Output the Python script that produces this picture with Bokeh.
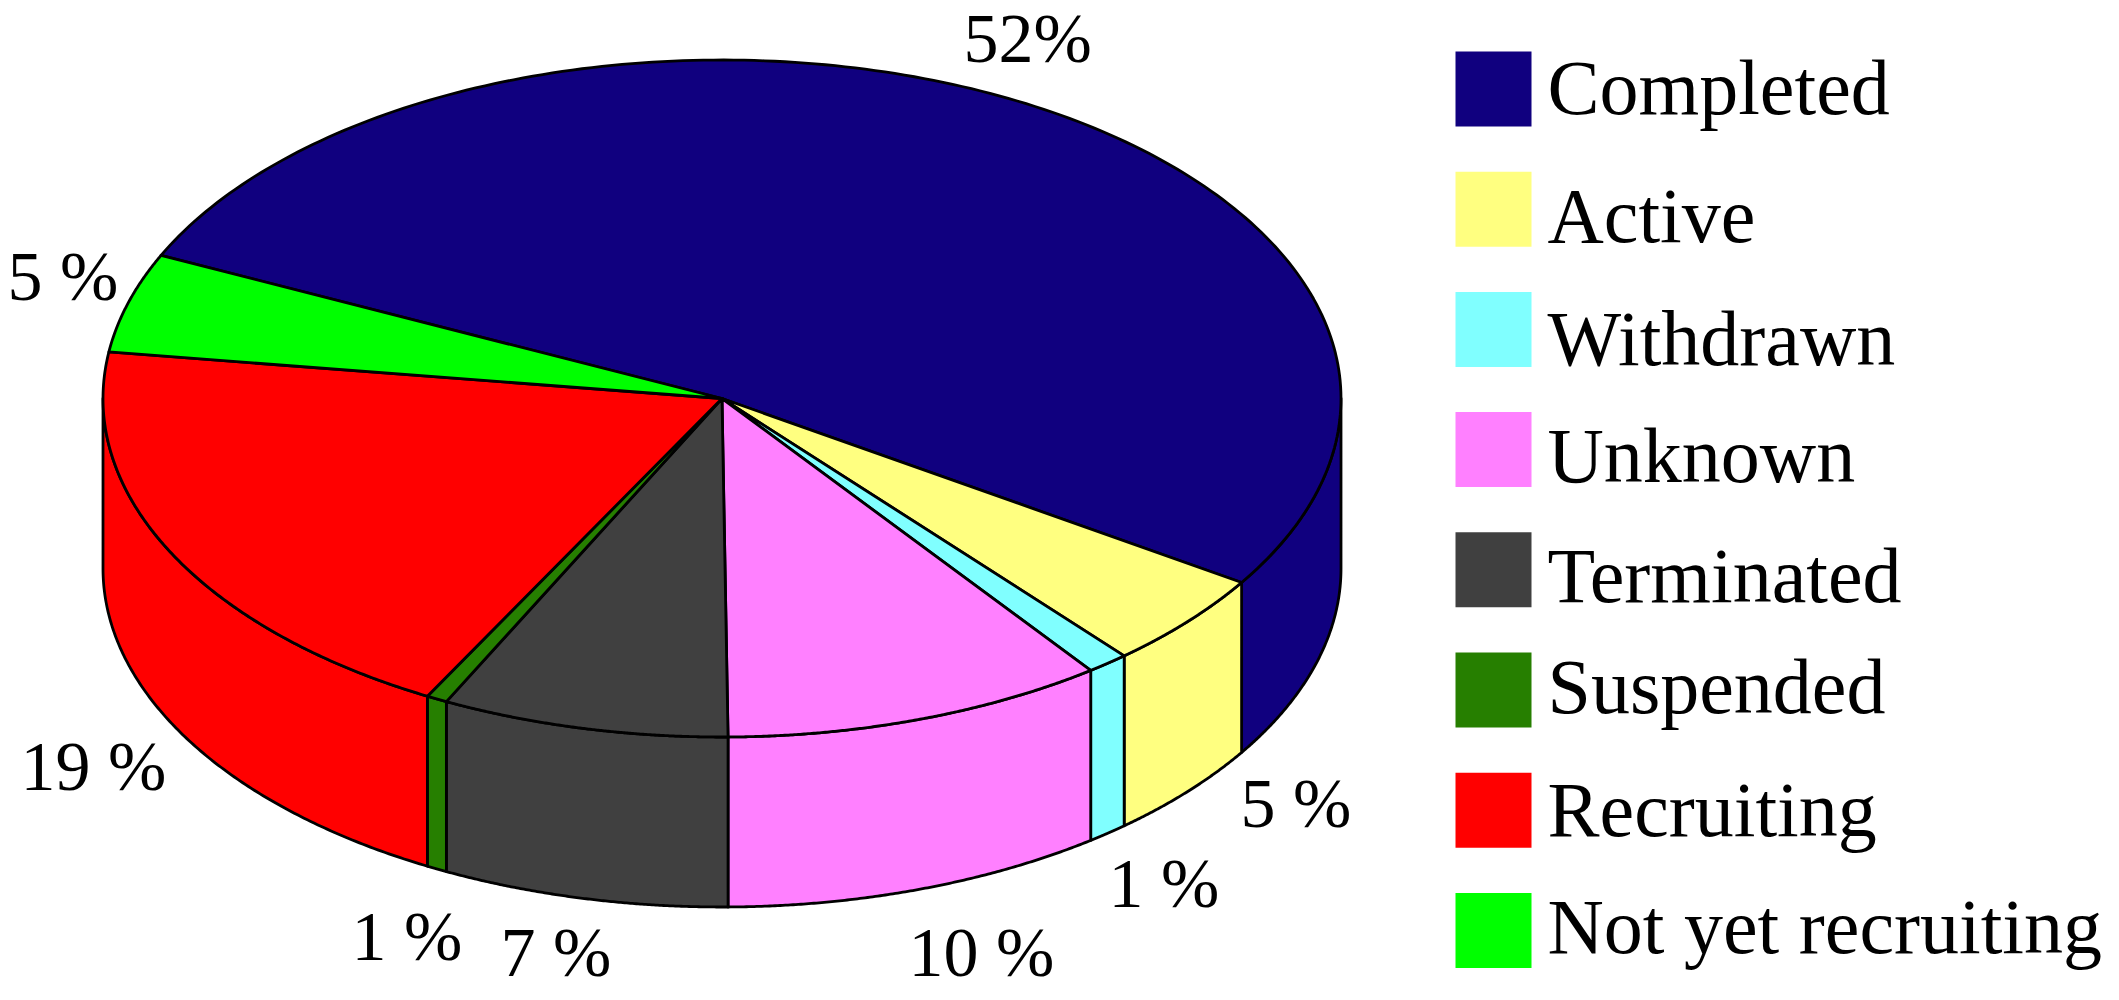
import numpy as np
from bokeh.plotting import figure
from bokeh.models import Range1d
from bokeh.core.properties import value
from bokeh.embed import file_html
from bokeh.resources import INLINE

categories = ["Completed", "Active", "Withdrawn", "Unknown", "Terminated",
              "Suspended", "Recruiting", "Not yet recruiting"]
shares = [52.2, 4.6, 1.1, 10.0, 7.5, 0.55, 19.3, 4.75]
share_labels = ["52%", "5 %", "1 %", "10 %", "7 %", "1 %", "19 %", "5 %"]
colors = ["#10007f", "#ffff80", "#80ffff", "#ff80ff", "#404040", "#267f00", "#ff0000", "#00ff00"]

# layout (canvas units = reference pixels)
CX, CY, RX, RY, DEPTH = 721.5, 398.0, 619.0, 338.5, 170.0
START_DEG = -155.0   # start of "Completed", clockwise on screen
label_x = [963, 1240, 1108, 908, 500, 351, 20, 7]
label_y = [62, 827, 907, 976, 976, 960, 790, 300]
legend_x0, legend_x1, legend_top, legend_h, legend_pitch = 1455, 1531, 51, 75, 120.2
legend_text_x = 1547
legend_base = [113, 241, 364, 481, 601, 712, 835, 952]
FONT = value("Liberation Serif")

def ellipse(t, dy=0.0):
    return CX + RX * np.cos(t), CY + RY * np.sin(t) + dy

fr = np.cumsum([0] + shares) / sum(shares)
edges = np.radians(START_DEG + 360 * fr)

wall_xs, wall_ys, wall_c = [], [], []
top_xs, top_ys, top_c = [], [], []
for i, c in enumerate(colors):
    a, b = edges[i], edges[i + 1]
    t = np.linspace(a, b, 200)
    x, y = ellipse(t)
    top_xs.append([CX] + list(x))
    top_ys.append([CY] + list(y))
    top_c.append(c)
    for k in (-1, 0, 1):
        lo, hi = max(a, 2 * np.pi * k), min(b, np.pi + 2 * np.pi * k)
        if hi > lo:
            w = np.linspace(lo, hi, 150)
            xu, yu = ellipse(w)
            xl, yl = ellipse(w[::-1], DEPTH)
            wall_xs.append(list(xu) + list(xl))
            wall_ys.append(list(yu) + list(yl))
            wall_c.append(c)

p = figure(width=2103, height=992, output_backend="svg", toolbar_location=None,
           x_range=Range1d(0, 2103), y_range=Range1d(992, 0),
           min_border=0, min_border_left=0, min_border_right=0,
           min_border_top=0, min_border_bottom=0, outline_line_color=None)
p.axis.visible = False
p.grid.visible = False

p.patches(xs=wall_xs, ys=wall_ys, fill_color=wall_c, line_color="black", line_width=2.8, line_join="round")
p.patches(xs=top_xs, ys=top_ys, fill_color=top_c, line_color="black", line_width=2.8, line_join="round")

p.text(x=label_x, y=label_y, text=share_labels, text_font=FONT, text_font_size="70px", y_offset=-24,
       text_color="black", text_baseline="alphabetic", text_align="left")

tops = [legend_top + legend_pitch * i for i in range(len(categories))]
p.quad(left=legend_x0, right=legend_x1, top=tops, bottom=[t + legend_h for t in tops],
       fill_color=colors, line_color=None)
p.text(x=legend_text_x, y=legend_base, text=categories, text_font=FONT, text_font_size="78px", y_offset=-26,
       text_color="black", text_baseline="alphabetic", text_align="left")

open("out.html", "w").write(file_html(p, INLINE))
